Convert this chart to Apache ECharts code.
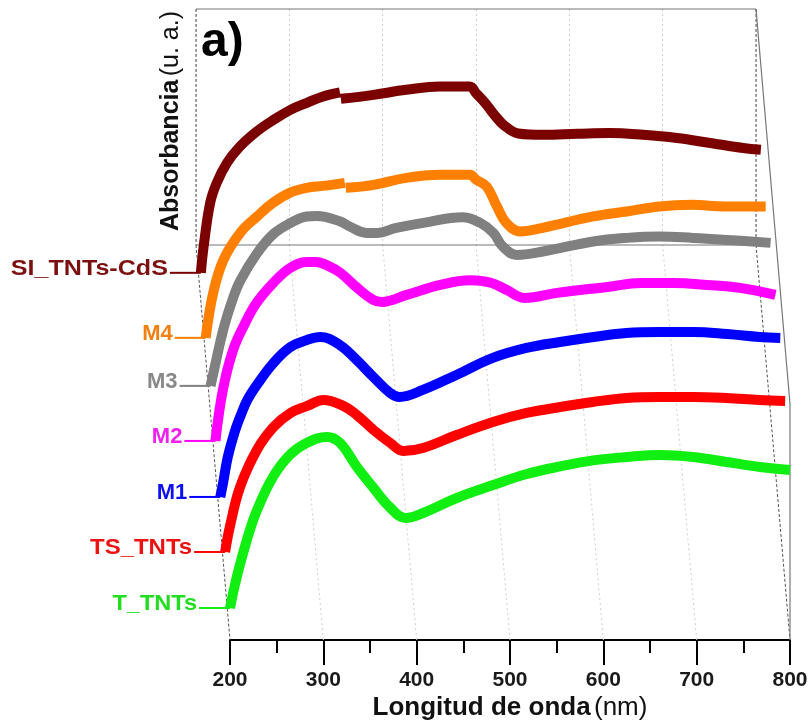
<!DOCTYPE html>
<html><head><meta charset="utf-8">
<script src="https://cdn.jsdelivr.net/npm/echarts@6/dist/echarts.min.js"></script>
<style>html,body{margin:0;padding:0;background:#fff}#c{width:811px;height:722px}</style>
</head><body><div id="c"></div>
<script>
// ---- data (front to back) ----
const seriesNames = ['T_TNTs', 'TS_TNTs', 'M1', 'M2', 'M3', 'M4', 'SI_TNTs-CdS'];
const seriesColors = ['#11EE11', '#FF0000', '#0000FF', '#FF00FF', '#808080', '#FF8000', '#7B0000'];
const labelColors = ['#22DD22', '#EE1111', '#1010EE', '#EE22EE', '#888888', '#F08010', '#7B1010'];
const xTicks = [200, 300, 400, 500, 600, 700, 800];

const wl_T = [200, 205, 210, 220, 229, 246, 264, 282, 304, 318, 336, 353, 371, 388, 407, 443, 482, 518, 554, 589, 625, 661, 696, 732, 768, 800];
const abs_T = [0.16, 0.27, 0.365, 0.53, 0.65, 0.815, 0.925, 0.985, 1.015, 0.985, 0.865, 0.765, 0.665, 0.61, 0.635, 0.71, 0.775, 0.83, 0.868, 0.898, 0.915, 0.925, 0.915, 0.89, 0.865, 0.85];

const wl_TS = [200, 205, 216, 234, 252, 270, 288, 305, 326, 341, 359, 377, 391, 412, 448, 487, 523, 559, 594, 630, 666, 701, 737, 772, 800];
const abs_TS = [0.158, 0.283, 0.483, 0.668, 0.783, 0.853, 0.888, 0.918, 0.89, 0.843, 0.768, 0.703, 0.663, 0.678, 0.743, 0.808, 0.853, 0.883, 0.908, 0.928, 0.933, 0.933, 0.928, 0.918, 0.913];

const wl_M1 = [200, 203, 208, 215, 222, 229, 239, 257, 275, 293, 307, 328, 346, 364, 382, 392, 417, 453, 492, 528, 564, 600, 635, 671, 707, 743, 778, 800];
const abs_M1 = [0.151, 0.221, 0.35, 0.47, 0.56, 0.636, 0.71, 0.821, 0.90, 0.936, 0.951, 0.911, 0.836, 0.751, 0.671, 0.651, 0.686, 0.761, 0.846, 0.896, 0.926, 0.951, 0.971, 0.976, 0.976, 0.966, 0.951, 0.946];

const wl_M2 = [200, 208, 219, 231, 244, 262, 280, 298, 308, 323, 334, 352, 369, 378, 405, 441, 473, 495, 512, 531, 566, 620, 656, 691, 727, 762, 800];
const abs_M2 = [0.149, 0.404, 0.604, 0.73, 0.839, 0.939, 1.014, 1.044, 1.044, 1.019, 0.989, 0.914, 0.854, 0.844, 0.879, 0.929, 0.952, 0.94, 0.904, 0.864, 0.889, 0.919, 0.939, 0.939, 0.929, 0.914, 0.879];

const wl_M3 = [200, 203, 214, 224, 232, 249, 267, 285, 303, 314, 339, 349, 367, 378, 399, 428, 470, 489, 503, 513, 528, 556, 610, 646, 681, 717, 753, 800];
const abs_M3 = [0.142, 0.206, 0.43, 0.58, 0.67, 0.80, 0.90, 0.955, 0.989, 0.992, 0.964, 0.939, 0.907, 0.907, 0.932, 0.957, 0.985, 0.957, 0.907, 0.839, 0.797, 0.814, 0.864, 0.882, 0.889, 0.882, 0.872, 0.857];

// null marks the small discontinuity (detector change) near 350 nm
const wl_M4 = [200, 208, 219, 237, 255, 272, 290, 308, 326, 349, 349.5, 350, 380, 415, 451, 483, 490, 501, 512, 522, 537, 561, 615, 651, 686, 721, 757, 800];
const abs_M4 = [0.10, 0.325, 0.49, 0.625, 0.707, 0.775, 0.825, 0.85, 0.86, 0.875, null, 0.85, 0.865, 0.90, 0.915, 0.915, 0.89, 0.857, 0.757, 0.675, 0.632, 0.65, 0.707, 0.732, 0.757, 0.765, 0.757, 0.757];

const wl_SI = [200, 203, 210, 217, 228, 242, 260, 278, 296, 313, 331, 349, 349.5, 350, 385, 420, 456, 488, 495, 505, 515, 525, 540, 567, 603, 638, 674, 710, 746, 781, 800];
const abs_SI = [0.143, 0.275, 0.493, 0.593, 0.693, 0.775, 0.85, 0.908, 0.958, 0.992, 1.025, 1.045, null, 1.013, 1.033, 1.058, 1.075, 1.075, 1.04, 0.99, 0.93, 0.88, 0.84, 0.833, 0.838, 0.842, 0.833, 0.817, 0.792, 0.767, 0.758];

const wlList = [wl_T, wl_TS, wl_M1, wl_M2, wl_M3, wl_M4, wl_SI];
const absList = [abs_T, abs_TS, abs_M1, abs_M2, abs_M3, abs_M4, abs_SI];
const labelScaleX = [1.07, 1.09, 1, 1, 1, 1, 1.14];

// ---- layout (pseudo-3D waterfall) ----
const FONT = 'Liberation Sans, Arial, Helvetica, sans-serif';
const FRONT_LEFT = 230, FRONT_BOTTOM = 640, PLOT_W = 560;
const DEPTH_DX = 34 / 7, DEPTH_DY = 395 / 7;
const GRID_H = 300, Y_MAX = 1.5;
const BACK_K = 7, BACK_H = 236, BACK_YMAX = BACK_H * Y_MAX / GRID_H;

const grids = [], xAxes = [], yAxes = [], series = [];
for (let k = 0; k < 7; k++) {
  grids.push({left: FRONT_LEFT - DEPTH_DX * k, top: FRONT_BOTTOM - DEPTH_DY * k - GRID_H,
    width: PLOT_W, height: GRID_H, containLabel: false, outerBoundsMode: 'none'});
  if (k === 0) {
    xAxes.push({gridIndex: 0, type: 'value', min: xTicks[0], max: xTicks[xTicks.length - 1], interval: 100,
      axisLine: {show: true, lineStyle: {color: '#000', width: 2}},
      axisTick: {show: true, length: 25, lineStyle: {color: '#000', width: 2}},
      minorTick: {show: true, splitNumber: 2, length: 13, lineStyle: {color: '#000', width: 2}},
      splitLine: {show: false},
      axisLabel: {show: true, margin: 30, fontFamily: FONT, fontWeight: 'bold', fontSize: 21, color: '#1a1a1a',
        showMinLabel: true, showMaxLabel: true, hideOverlap: false},
      name: '{b|Longitud de onda} {n|(nm)}', nameLocation: 'middle', nameGap: 55,
      nameTextStyle: {color: '#000', rich: {
        b: {fontFamily: FONT, fontWeight: 'bold', fontSize: 26, color: '#111'},
        n: {fontFamily: FONT, fontWeight: 'normal', fontSize: 26, color: '#111'}}}
    });
  } else {
    xAxes.push({gridIndex: k, type: 'value', min: 200, max: 800, show: false});
  }
  yAxes.push({gridIndex: k, type: 'value', min: 0, max: Y_MAX, show: false});
}
// back wall grid
grids.push({left: FRONT_LEFT - DEPTH_DX * BACK_K, top: FRONT_BOTTOM - DEPTH_DY * BACK_K - BACK_H,
  width: PLOT_W, height: BACK_H, containLabel: false, outerBoundsMode: 'none'});
xAxes.push({gridIndex: 7, type: 'value', min: 200, max: 800, interval: 100,
  axisLine: {show: false}, axisTick: {show: false}, axisLabel: {show: false},
  splitLine: {show: true, lineStyle: {color: '#cfcfcf', width: 1, type: [2, 3]}}});
yAxes.push({gridIndex: 7, type: 'value', min: 0, max: BACK_YMAX,
  axisLine: {show: false}, axisTick: {show: false}, axisLabel: {show: false}, splitLine: {show: false},
  name: '{b|Absorbancia} {n|(u. a.)}', nameLocation: 'middle', nameGap: 12, nameRotate: 90,
  nameTextStyle: {padding: [0, 0, 0, 12], rich: {
    b: {fontFamily: FONT, fontWeight: 'bold', fontSize: 25, color: '#111'},
    n: {fontFamily: FONT, fontWeight: 'normal', fontSize: 25, color: '#111'}}}
});

for (let k = 6; k >= 0; k--) {
  series.push({
    name: seriesNames[k], type: 'line', xAxisIndex: k, yAxisIndex: k,
    data: wlList[k].map((w, i) => [w, absList[k][i] === null ? '-' : absList[k][i]]),
    showSymbol: false, smooth: 0.4, connectNulls: false, clip: false, z: 3 + (6 - k),
    lineStyle: {color: seriesColors[k], width: 10, cap: 'butt'},
    itemStyle: {color: seriesColors[k]},
    emphasis: {disabled: true}, silent: true, animation: false
  });
}

const chart = echarts.init(document.getElementById('c'), null, {renderer: 'canvas'});
chart.setOption({
  backgroundColor: '#fff', animation: false,
  grid: grids, xAxis: xAxes, yAxis: yAxes, series: series
});

// ---- 3D frame, labels via the library's coordinate conversion ----
const px = (g, p) => chart.convertToPixel({gridIndex: g}, p);
const line = (a, b, style, z) => ({type: 'line', silent: true, z: z || 1,
  shape: {x1: a[0], y1: a[1], x2: b[0], y2: b[1]}, style: Object.assign({fill: null}, style)});
const solid = {stroke: '#777', lineWidth: 1.2};
const dash = {stroke: '#555', lineWidth: 1, lineDash: [3, 2]};
const dots = {stroke: '#cfcfcf', lineWidth: 1, lineDash: [2, 3]};

const BL = px(7, [200, 0]), BR = px(7, [800, 0]), TL = px(7, [200, BACK_YMAX]), TR = px(7, [800, BACK_YMAX]);
const F0 = px(0, [200, 0]), F1 = px(0, [800, 0]), R = px(0, [800, BACK_YMAX]);
const g = [];
xTicks.slice(1, -1).forEach(x => g.push(line(px(0, [x, 0]), px(7, [x, 0]), dots, 0)));
g.push(line(TL, TR, solid));
g.push(line(BL, BR, solid));
g.push(line(TL, BL, dash));
g.push(line(BL, F0, dash));
g.push(line(TR, BR, dash));
g.push(line(BR, F1, dash));
g.push(line(F1, R, solid));
g.push(line(R, TR, solid));

for (let k = 0; k < 7; k++) {
  const s = px(k, [wlList[k][0], absList[k][0]]);
  g.push(line([s[0] - 31, s[1]], [s[0], s[1]], {stroke: seriesColors[k], lineWidth: 2}, 20));
  g.push({type: 'text', silent: true, z: 20, x: s[0] - 33, y: s[1] - 4,
    scaleX: labelScaleX[k], scaleY: 1,
    style: {text: seriesNames[k], fill: labelColors[k], font: 'bold 22px ' + FONT, align: 'right', verticalAlign: 'middle'}});
}
g.push({type: 'text', silent: true, z: 20, x: 201, y: 19,
  style: {text: 'a)', fill: '#000', font: 'bold 48px ' + FONT, align: 'left', verticalAlign: 'top'}});

chart.setOption({graphic: {elements: g}});
</script>
</body></html>
